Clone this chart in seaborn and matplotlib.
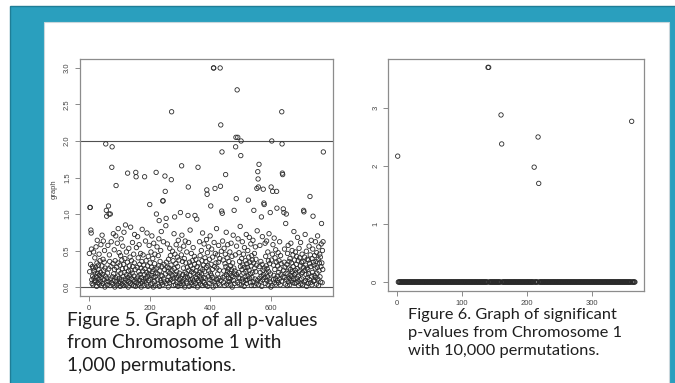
import numpy as np
import pandas as pd
import matplotlib
matplotlib.use("Agg")
import matplotlib.pyplot as plt
from matplotlib.patches import Rectangle
import seaborn as sns

# ---------------- data ----------------
# Figure 5: all p-values (index 1..772)
left_base = [
 .46,.21,.02,.35,.31,.78,.74,.52,.10,.05,.28,.15,.03,.26,.48,.12,.22,.07,.40,.18,
 .09,.27,.55,.14,.01,.33,.64,.19,.06,.24,.30,.11,.45,.04,.16,.36,.08,.20,.58,.13,
 .02,.29,.71,.17,.05,.38,.63,.23,.10,.34,.50,.00,.26,.15,.68,.07,.42,.31,.12,.03,
 .19,.57,.08,.01,.25,.16,.44,.35,.02,.77,.11,.28,.62,.06,.21,.39,.14,.04,.32,.73,
 .18,.09,.51,.24,.00,.36,.13,.70,.41,.07,.27,.03,.60,.15,.33,.80,.22,.05,.47,.12,
 .08,.30,.01,.43,.19,.66,.10,.37,.04,.25,.56,.14,.02,.31,.75,.20,.06,.39,.11,.85,
 .26,.03,.48,.17,.09,.34,.67,.13,.00,.22,.53,.07,.29,.16,.41,.05,.82,.23,.12,.36,
 .04,.19,.61,.28,.10,.02,.45,.15,.33,.72,.08,.24,.01,.38,.18,.54,.11,.06,.27,.69,
 .14,.40,.03,.21,.58,.09,.31,.17,.05,.46,.26,.00,.13,.35,.79,.07,.22,.44,.10,.30,
 .02,.17,.52,.25,.08,.63,.12,.36,.04,.20,.74,.15,.29,.01,.42,.09,.18,.57,.23,.06,
 .33,.11,.03,.48,.16,.27,.70,.05,.21,.39,.13,.00,.60,.24,.08,.32,.45,.14,.02,.19,
 .37,.07,.26,.55,.10,.18,.04,.43,.29,.66,.12,.01,.22,.35,.09,.50,.16,.76,.06,.28,
 .15,.03,.40,.20,.62,.11,.31,.07,.24,.47,.02,.18,.84,.13,.34,.05,.27,.59,.09,.21,
 .00,.38,.14,.26,.06,.53,.19,.43,.10,.30,.68,.04,.23,.16,.49,.08,.36,.12,.02,.73,
 .25,.09,.45,.17,.03,.32,.58,.13,.21,.06,.41,.28,.01,.64,.15,.37,.10,.19,.52,.05,
 .30,.12,.02,.44,.22,.71,.08,.35,.17,.04,.26,.56,.11,.39,.00,.20,.63,.14,.33,.07,
 .18,.48,.05,.27,.13,.40,.09,.61,.23,.01,.34,.16,.78,.10,.29,.06,.46,.21,.03,.36,
 .11,.25,.54,.08,.19,.02,.42,.31,.67,.14,.05,.38,.22,.12,.57,.28,.00,.17,.45,.09,
 .33,.07,.20,.62,.15,.43,.04,.26,.11,.50,.18,.36,.02,.74,.24,.08,.30,.13,.59,.06,
 .21,.40,.12,.03,.35,.27,.65,.09,.17,.47,.01,.29,.14,.55,.22,.05,.38,.10,.70,.19,
 .04,.31,.16,.52,.08,.24,.41,.13,.00,.36,.20,.61,.07,.28,.15,.46,.02,.33,.11,.80,
 .26,.10,.44,.18,.05,.34,.57,.12,.23,.03,.39,.68,.14,.30,.09,.49,.19,.01,.27,.63,
 .13,.37,.06,.22,.53,.15,.02,.32,.45,.10,.28,.75,.17,.04,.40,.21,.58,.08,.25,.12,
 .35,.07,.19,.48,.11,.29,.03,.60,.24,.16,.42,.00,.33,.14,.71,.09,.26,.51,.18,.05,
 .22,.44,.10,.31,.02,.56,.17,.38,.06,.25,.66,.13,.20,.47,.04,.35,.12,.83,.28,.08,
 .16,.03,.39,.24,.62,.11,.30,.07,.45,.19,.01,.54,.27,.14,.36,.09,.21,.72,.05,.32,
 .10,.27,.50,.15,.04,.41,.23,.68,.12,.34,.06,.18,.59,.29,.02,.43,.13,.37,.20,.64,
 .07,.33,.18,.02,.46,.26,.11,.55,.21,.38,.05,.30,.14,.77,.09,.24,.49,.16,.03,.40,
 .28,.12,.57,.20,.08,.35,.15,.44,.01,.31,.69,.10,.23,.52,.17,.06,.39,.26,.13,.60,
 .05,.42,.19,.29,.63,.09,.25,.14,.48,.03,.36,.21,.73,.11,.32,.07,.54,.18,.00,.27,
 .37,.13,.02,.45,.22,.58,.10,.30,.16,.67,.06,.24,.40,.12,.51,.04,.34,.19,.81,.09,
 .15,.29,.47,.06,.20,.36,.11,.62,.25,.03,.43,.17,.32,.08,.55,.22,.01,.38,.14,.70,
 .23,.08,.34,.52,.13,.27,.04,.41,.19,.65,.10,.31,.02,.46,.18,.57,.07,.26,.35,.12,
 .03,.39,.16,.24,.60,.09,.33,.14,.50,.21,.06,.44,.28,.11,.76,.17,.37,.05,.23,.48,
 .19,.06,.31,.42,.12,.25,.68,.08,.36,.15,.02,.53,.22,.40,.10,.29,.61,.04,.18,.34,
 .11,.45,.20,.03,.35,.27,.58,.14,.07,.41,.23,.72,.09,.30,.17,.49,.01,.26,.38,.13,
 .24,.05,.37,.18,.56,.10,.32,.21,.44,.06,.28,.64,.15,.03,.39,.20,.52,.12,.34,.08,
 .30,.16,.43,.09,.26,.62,.13,.35,.04,.47,.19,.27,.70,.11,.38,.02,.55,.22,.33,.45,
 .14,.41,.07,.28,.59,.18,.33,.06,.50,.24,.62,.36,
]
# higher values (index -> value)
left_peak_idx = [3, 4, 55, 57, 58, 64, 66, 70, 75, 76, 89, 127, 154, 155, 183, 200,
                 221, 222, 231, 243, 244, 250, 251, 254, 271, 272, 282, 301, 305, 326,
                 327, 349, 355, 359, 388, 389, 401, 410, 411, 415, 432, 433, 434, 437,
                 438, 439, 450, 478, 483, 484, 485, 488, 490, 500, 501, 525, 543, 553,
                 556, 557, 558, 560, 568, 574, 576, 577, 597, 600, 602, 605, 618, 619,
                 635, 636, 637, 638, 640, 642, 648, 650, 707, 708, 728, 738, 766, 772]
left_peak_val = [1.09, 1.09, 1.96, 1.05, 0.97, 1.11, 1.00, 1.00, 1.64, 1.92, 1.39, 1.56,
                 1.57, 1.51, 1.51, 1.13, 1.57, 1.00, 0.91, 1.18, 1.18, 1.52, 1.31, 0.94,
                 1.47, 2.40, 0.96, 1.02, 1.66, 0.98, 1.37, 0.98, 0.93, 1.64, 1.33, 1.27,
                 1.11, 3.00, 3.00, 1.35, 3.00, 1.38, 2.22, 1.04, 1.85, 1.01, 1.54, 1.05,
                 1.92, 2.05, 1.21, 2.70, 2.05, 1.80, 2.00, 1.19, 1.05, 1.35, 1.58, 1.48,
                 1.37, 1.68, 0.96, 1.34, 1.15, 1.13, 1.02, 1.37, 2.00, 1.31, 1.31, 1.08,
                 2.40, 1.96, 1.56, 1.54, 1.07, 1.02, 0.87, 1.00, 1.05, 1.03, 1.24, 0.97,
                 0.87, 1.85]
left_hlines = [0.0, 2.0]
left_xticks = [0, 200, 400, 600]
left_yticks = [0.0, 0.5, 1.0, 1.5, 2.0, 2.5, 3.0]

# Figure 6: significant p-values (index 1..366), nearly all zero
right_base = [
 0,0,0,0,0,0,0,0,0,0,0,0,0,0,0,0,0,0,0,0,0,0,0,0,0,0,0,0,0,0,
 0,0,0,0,0,0,0,0,0,0,0,0,0,0,0,0,0,0,0,0,0,0,0,0,0,0,0,0,0,0,
 0,0,0,0,0,0,0,0,0,0,0,0,0,0,0,0,0,0,0,0,0,0,0,0,0,0,0,0,0,0,
 0,0,0,0,0,0,0,0,0,0,0,0,0,0,0,0,0,0,0,0,0,0,0,0,0,0,0,0,0,0,
 0,0,0,0,0,0,0,0,0,0,0,0,0,0,0,0,0,0,0,0,0,0,0,0,0,0,0,0,0,0,
 0,0,0,0,0,0,0,0,0,0,0,0,0,0,0,0,0,0,0,0,0,0,0,0,0,0,0,0,0,0,
 0,0,0,0,0,0,0,0,0,0,0,0,0,0,0,0,0,0,0,0,0,0,0,0,0,0,0,0,0,0,
 0,0,0,0,0,0,0,0,0,0,0,0,0,0,0,0,0,0,0,0,0,0,0,0,0,0,0,0,0,0,
 0,0,0,0,0,0,0,0,0,0,0,0,0,0,0,0,0,0,0,0,0,0,0,0,0,0,0,0,0,0,
 0,0,0,0,0,0,0,0,0,0,0,0,0,0,0,0,0,0,0,0,0,0,0,0,0,0,0,0,0,0,
 0,0,0,0,0,0,0,0,0,0,0,0,0,0,0,0,0,0,0,0,0,0,0,0,0,0,0,0,0,0,
 0,0,0,0,0,0,0,0,0,0,0,0,0,0,0,0,0,0,0,0,0,0,0,0,0,0,0,0,0,0,
 0,0,0,0,0,0,
]
right_peak_idx = [1, 140, 141, 160, 161, 211, 217, 218, 361]
right_peak_val = [2.17, 3.70, 3.70, 2.88, 2.38, 1.98, 2.50, 1.70, 2.77]
right_xticks = [0, 100, 200, 300]
right_yticks = [0, 1, 2, 3]

caption_left = "Figure 5. Graph of all p-values\nfrom Chromosome 1 with\n1,000 permutations."
caption_right = "Figure 6. Graph of significant\np-values from Chromosome 1\nwith 10,000 permutations."

# ---------------- build frames ----------------
lv = list(left_base)
for i, v in zip(left_peak_idx, left_peak_val):
    lv[i - 1] = v
df_left = pd.DataFrame({"index": np.arange(1, len(lv) + 1), "graph": lv})

rv = list(right_base)
for i, v in zip(right_peak_idx, right_peak_val):
    rv[i - 1] = v
df_right = pd.DataFrame({"index": np.arange(1, len(rv) + 1), "value": rv})

# ---------------- figure ----------------
sns.set_theme(style="white")
plt.rcParams["font.family"] = ["Liberation Sans", "DejaVu Sans"]

W, H = 675, 383
fig = plt.figure(figsize=(W / 100, H / 100), dpi=100)
fig.patch.set_facecolor("white")

def px_rect(x0, y0, x1, y1, z, **kw):
    """rectangle in pixel coords measured from top-left"""
    r = Rectangle((x0 / W, 1 - y1 / H), (x1 - x0) / W, (y1 - y0) / H,
                  transform=fig.transFigure, zorder=z, **kw)
    fig.add_artist(r)

# slide background
px_rect(10, 6, 676, 390, -3, facecolor="#2a9fbe", edgecolor="#1f7d96", linewidth=1.0)
px_rect(44, 22, 669, 390, -2, facecolor="white", edgecolor="#c9d7dc", linewidth=0.8)
# clipped descender of the slide title
fig.text(0.488, 1.012, "y", fontsize=22, fontweight="bold", color="#2b2b2b",
         family=["Lato", "DejaVu Sans"], va="baseline", ha="center")

def axes_px(x0, y0, x1, y1):
    return fig.add_axes([x0 / W, 1 - y1 / H, (x1 - x0) / W, (y1 - y0) / H])

ax1 = axes_px(80, 59.2, 332.7, 295.8)
ax2 = axes_px(388.2, 58.8, 644.4, 290.6)

mk = dict(marker="o", facecolor="none", edgecolor="#2a2a2a", s=10, linewidth=0.6, legend=False)

sns.scatterplot(data=df_left, x="index", y="graph", ax=ax1, **mk)
for h in left_hlines:
    ax1.axhline(h, color="#505050", linewidth=0.8, zorder=0)
ax1.set_xlim(1 - 0.04 * (len(lv) - 1), len(lv) + 0.04 * (len(lv) - 1))
ax1.set_ylim(-0.12, 3.12)
ax1.set_xticks(left_xticks)
ax1.set_yticks(left_yticks)
ax1.set_xticklabels([str(t) for t in left_xticks])
ax1.set_yticklabels([f"{t:.1f}" for t in left_yticks])
ax1.set_xlabel("")
ax1.set_ylabel("graph", fontsize=5.5, color="#444444")
ax1.yaxis.set_label_coords(-0.09, 0.45)

sns.scatterplot(data=df_right, x="index", y="value", ax=ax2, **mk)
ax2.set_xlim(1 - 0.04 * (len(rv) - 1), len(rv) + 0.04 * (len(rv) - 1))
ax2.set_ylim(-0.148, 3.848)
ax2.set_xticks(right_xticks)
ax2.set_yticks(right_yticks)
ax2.set_xticklabels([str(t) for t in right_xticks])
ax2.set_yticklabels([str(t) for t in right_yticks])
ax2.set_xlabel("")
ax2.set_ylabel("")

for ax in (ax1, ax2):
    ax.set_facecolor("white")
    for s in ax.spines.values():
        s.set_color("#8c8c8c")
        s.set_linewidth(0.9)
    ax.tick_params(axis="both", direction="out", length=3.5, width=0.6, color="#777777",
                   labelsize=5.5, labelcolor="#444444", pad=3.0,
                   bottom=True, left=True)
    ax.tick_params(axis="y", labelrotation=90)
    for lab in ax.get_yticklabels():
        lab.set_va("center")
    ax.grid(False)

# captions
fig.text(67 / W, 1 - 312 / H, caption_left, fontsize=13.7, color="#1e1e1e",
         family=["Lato", "DejaVu Sans"], va="top", ha="left", linespacing=1.38)
fig.text(408 / W, 1 - 307.5 / H, caption_right, fontsize=11.8, color="#1e1e1e",
         family=["Lato", "DejaVu Sans"], va="top", ha="left", linespacing=1.4)

fig.savefig("out.png", dpi=100)
